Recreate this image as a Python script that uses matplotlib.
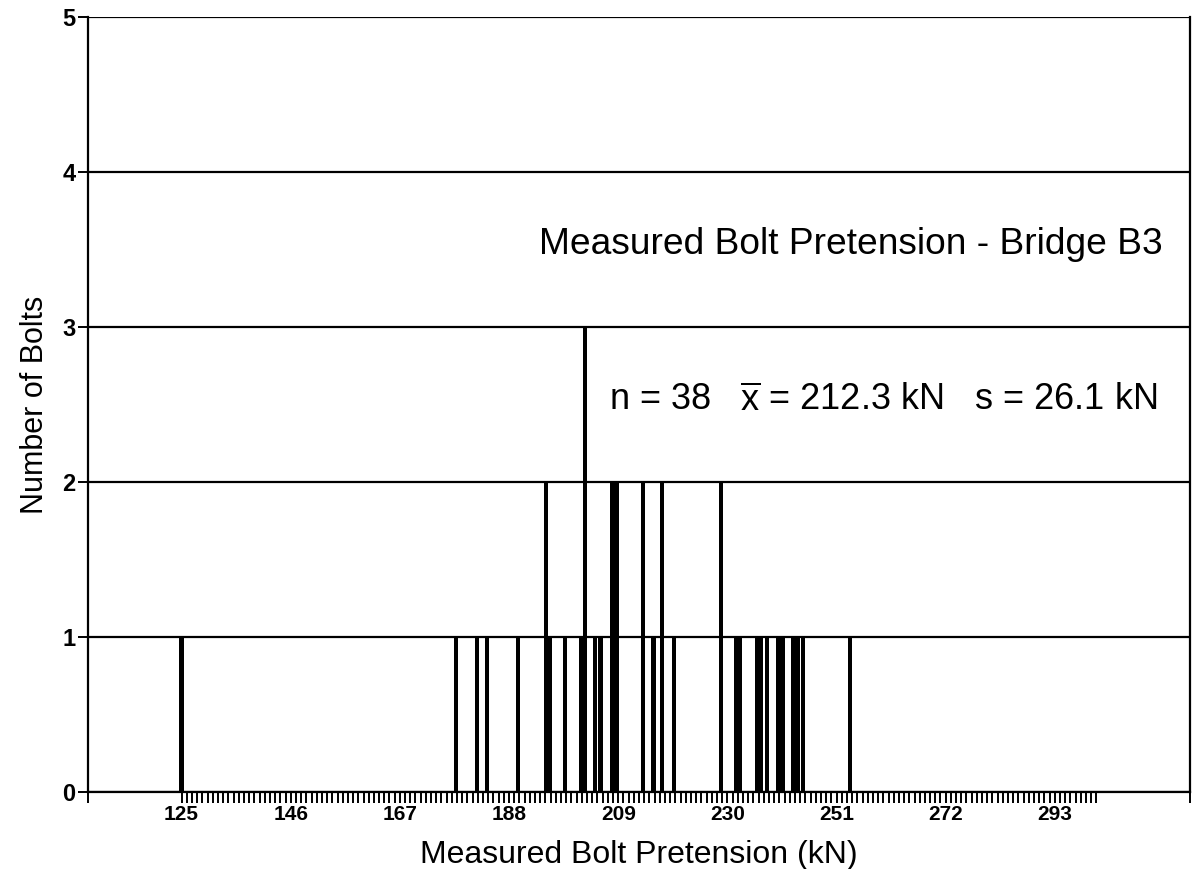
import matplotlib
matplotlib.use("Agg")
import matplotlib.pyplot as plt
import numpy as np

plt.rcParams['font.family'] = ['Liberation Sans', 'DejaVu Sans']
plt.rcParams['mathtext.fontset'] = 'custom'
plt.rcParams['mathtext.rm'] = 'Liberation Sans'
plt.rcParams['mathtext.it'] = 'Liberation Sans'

# Measured bolt pretension values (kN) and counts
pretension = [125, 177.8, 181.8, 183.8, 189.7, 195.1, 195.9, 198.7, 201.8, 202.6,
              204.5, 205.6, 207.9, 208.7, 213.7, 215.8, 217.5, 219.7, 228.7,
              231.6, 232.5, 235.7, 236.5, 237.7, 239.7, 240.6, 242.6, 243.5,
              244.6, 253.6]
counts = [1, 1, 1, 1, 1, 2, 1, 1, 1, 3,
          1, 1, 2, 2, 2, 1, 2, 1, 2,
          1, 1, 1, 1, 1, 1, 1, 1, 1,
          1, 1]
xticks = [125, 146, 167, 188, 209, 230, 251, 272, 293]
yticks = [0, 1, 2, 3, 4, 5]
title_text = "Measured Bolt Pretension - Bridge B3"
stats_text = r"n = 38   $\overline{\mathrm{x}}$ = 212.3 kN   s = 26.1 kN"

fig = plt.figure(figsize=(11.93, 8.69), dpi=100)
ax = fig.add_axes([88/1193, 1-792/869, (1190-88)/1193, 775/869])

ax.bar(pretension, counts, width=0.8, color='black', zorder=3)

ax.set_xlim(107, 319)
ax.set_ylim(0, 5)
ax.set_xticks(xticks)
ax.set_xticks(list(range(125, 302)) + [107, 319], minor=True)
ax.set_yticks(yticks)
ax.tick_params(axis='x', which='both', direction='out', length=8, width=1.4,
               labelsize=15, pad=1)
ax.tick_params(axis='y', which='major', direction='out', length=7, width=1.4,
               labelsize=17, pad=2)
for lab in ax.get_xticklabels() + ax.get_yticklabels():
    lab.set_fontweight('bold')

ax.grid(axis='y', color='black', linewidth=1.6, zorder=1)
for side in ['left', 'right', 'bottom']:
    ax.spines[side].set_linewidth(1.6)
ax.spines['top'].set_visible(False)

ax.set_xlabel("Measured Bolt Pretension (kN)", fontsize=23, labelpad=12)
ax.set_ylabel("Number of Bolts", fontsize=22, labelpad=9)

fig.text(1163/1193, 1-245/869, title_text, ha='right', va='center', fontsize=26.7)
fig.text(1157/1193, 1-401/869, stats_text, ha='right', va='center', fontsize=26)

fig.savefig("out.png", dpi=100)
